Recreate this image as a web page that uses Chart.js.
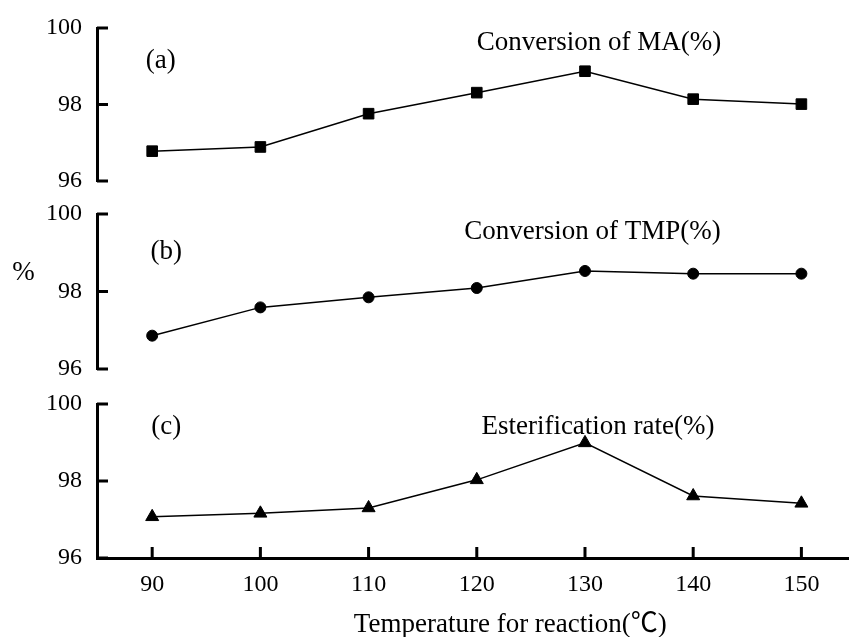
<!DOCTYPE html>
<html>
<head>
<meta charset="utf-8">
<script src="https://cdn.jsdelivr.net/npm/chart.js@4/dist/chart.umd.min.js"></script>
<style>
  body { margin: 0; background: #fff; }
  #wrap { position: relative; width: 849px; height: 637px; }
  canvas { position: absolute; left: 0; }
</style>
</head>
<body>
<div id="wrap">
  <canvas id="panelA" width="849" height="196" style="top:0"></canvas>
  <canvas id="panelB" width="849" height="188" style="top:196px"></canvas>
  <canvas id="panelC" width="849" height="253" style="top:384px"></canvas>
</div>
<script>
const temps = [90, 100, 110, 120, 130, 140, 150];
const maConversion = [96.78, 96.89, 97.76, 98.31, 98.87, 98.14, 98.01];
const tmpConversion = [96.86, 97.59, 97.85, 98.09, 98.53, 98.46, 98.46];
const esterificationRate = [97.07, 97.16, 97.30, 98.03, 98.99, 97.61, 97.42];
const yTicks = [96, 98, 100];

const FONT = '"Liberation Serif", "Times New Roman", "Noto Sans CJK SC", serif';

// ticks in the original point inward, chart.js only draws them outward
const inwardTicks = {
  id: 'inwardTicks',
  afterDraw(chart) {
    const { ctx } = chart;
    const x = chart.scales.x;
    const y = chart.scales.y;
    ctx.save();
    ctx.strokeStyle = '#000';
    ctx.lineWidth = 3;
    ctx.beginPath();
    y.ticks.forEach((t) => {
      const py = y.getPixelForValue(t.value);
      ctx.moveTo(y.right, py);
      ctx.lineTo(y.right + 11, py);
    });
    if (x.options.display) {
      x.ticks.forEach((t) => {
        const px = x.getPixelForValue(t.value);
        ctx.moveTo(px, x.top);
        ctx.lineTo(px, x.top - 11);
      });
    }
    ctx.stroke();
    ctx.restore();
  },
};

const notes = {
  id: 'notes',
  afterDraw(chart, args, opts) {
    const { ctx } = chart;
    ctx.save();
    ctx.fillStyle = '#000';
    ctx.textAlign = 'center';
    ctx.textBaseline = 'middle';
    (opts.items || []).forEach((n) => {
      ctx.font = n.size + 'px ' + FONT;
      ctx.fillText(n.text, chart.scales.x.getPixelForValue(n.x), chart.scales.y.getPixelForValue(n.y));
    });
    ctx.restore();
  },
};

function makePanel(id, values, pointStyle, radius, items, showX, padding) {
  return new Chart(document.getElementById(id), {
    type: 'line',
    data: {
      datasets: [
        {
          data: temps.map((t, i) => ({ x: t, y: values[i] })),
          borderColor: '#000',
          borderWidth: 1.5,
          backgroundColor: '#000',
          pointStyle,
          pointRadius: radius,
          pointHoverRadius: radius,
          pointBorderWidth: 1,
          tension: 0,
        },
      ],
    },
    options: {
      responsive: false,
      animation: false,
      events: [],
      layout: { padding, autoPadding: false },
      plugins: {
        legend: { display: false },
        tooltip: { enabled: false },
        notes: { items },
      },
      scales: {
        x: {
          type: 'linear',
          display: showX,
          min: 84.9,
          max: 154.4,
          afterBuildTicks: (scale) => {
            scale.ticks = temps.map((v) => ({ value: v }));
          },
          afterFit: (scale) => {
            if (showX) scale.height = 79;
            scale.paddingLeft = 0;
            scale.paddingRight = 0;
          },
          grid: { drawOnChartArea: false, drawTicks: false },
          border: { color: '#000', width: 3 },
          ticks: {
            color: '#000',
            font: { family: FONT, size: 24 },
            padding: 12,
            maxRotation: 0,
            autoSkip: false,
          },
        },
        y: {
          min: 96,
          max: 100,
          afterBuildTicks: (scale) => {
            scale.ticks = yTicks.map((v) => ({ value: v }));
          },
          afterFit: (scale) => {
            scale.width = 97;
            scale.paddingTop = 0;
            scale.paddingBottom = 0;
          },
          grid: { drawOnChartArea: false, drawTicks: false },
          border: { color: '#000', width: 3 },
          ticks: {
            color: '#000',
            font: { family: FONT, size: 24 },
            padding: 15,
          },
        },
      },
    },
    plugins: [inwardTicks, notes],
  });
}

makePanel('panelA', maConversion, 'rect', 7.5, [
  { text: '(a)', x: 90.8, y: 99.14, size: 27 },
  { text: 'Conversion of MA(%)', x: 131.3, y: 99.61, size: 27 },
], false, { top: 28, bottom: 15, left: 0, right: 0 });

makePanel('panelB', tmpConversion, 'circle', 5.5, [
  { text: '(b)', x: 91.3, y: 99.01, size: 27 },
  { text: 'Conversion of TMP(%)', x: 130.7, y: 99.53, size: 27 },
  { text: '%', x: 78.1, y: 98.49, size: 27 },
], false, { top: 18, bottom: 15, left: 0, right: 0 });

makePanel('panelC', esterificationRate, 'triangle', 7.5, [
  { text: '(c)', x: 91.3, y: 99.40, size: 27 },
  { text: 'Esterification rate(%)', x: 131.2, y: 99.40, size: 27 },
  { text: 'Temperature for reaction(℃)', x: 123.1, y: 94.26, size: 27 },
], true, { top: 20, bottom: 0, left: 0, right: 0 });
</script>
</body>
</html>
